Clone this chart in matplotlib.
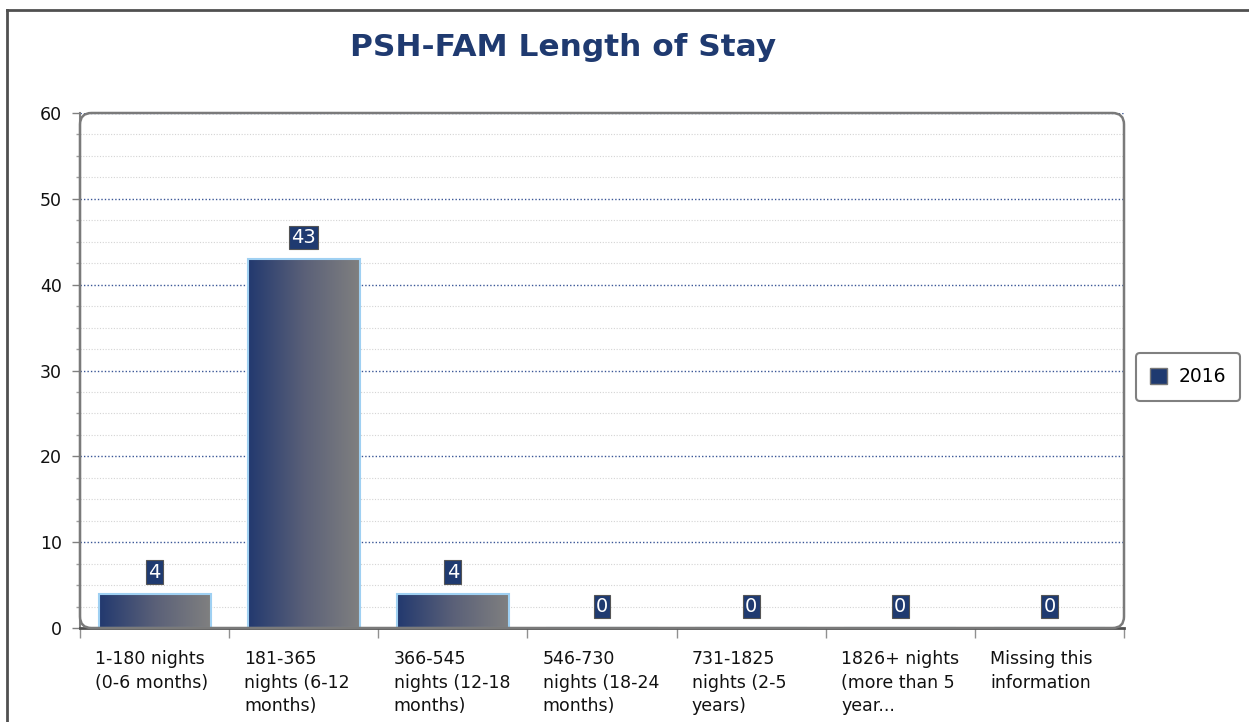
import matplotlib
matplotlib.use("Agg")
import matplotlib.pyplot as plt
import numpy as np
from matplotlib.patches import FancyBboxPatch, Patch
from matplotlib.lines import Line2D
from matplotlib.colors import LinearSegmentedColormap

# data
categories = [
    "1-180 nights\n(0-6 months)",
    "181-365\nnights (6-12\nmonths)",
    "366-545\nnights (12-18\nmonths)",
    "546-730\nnights (18-24\nmonths)",
    "731-1825\nnights (2-5\nyears)",
    "1826+ nights\n(more than 5\nyear...",
    "Missing this\ninformation",
]
values_2016 = [4, 43, 4, 0, 0, 0, 0]
series_name = "2016"
title = "PSH-FAM Length of Stay"

NAVY = "#1f3a70"
GRAD = LinearSegmentedColormap.from_list("navygray", ["#22396f", "#5a6078", "#808080"])

W, H = 1249, 722
fig = plt.figure(figsize=(W / 100, H / 100), dpi=100)
fig.patch.set_facecolor("white")
ax = fig.add_axes([80 / W, 1 - 628 / H, (1124 - 80) / W, (628 - 113) / H])
ax.set_facecolor("white")

x = np.arange(len(categories))
bars = ax.bar(x, values_2016, width=0.75, facecolor="none",
              edgecolor="#9fd0f2", linewidth=1.5, zorder=3)

grad = np.linspace(0, 1, 256).reshape(1, -1)
for b in bars:
    if b.get_height() > 0:
        ax.imshow(grad, cmap=GRAD, aspect="auto", zorder=2.5,
                  extent=(b.get_x(), b.get_x() + b.get_width(), 0, b.get_height()))

for b, v in zip(bars, values_2016):
    ax.annotate(str(v), (b.get_x() + b.get_width() / 2, b.get_height()),
                xytext=(0, 15.5), textcoords="offset points", ha="center", va="center",
                color="white", fontsize=14, zorder=5,
                bbox=dict(boxstyle="square,pad=0.12", fc=NAVY, ec="#555555", lw=0.8))

ax.set_xlim(-0.5, len(categories) - 0.5)
ax.set_ylim(0, 60)

# y axis
ax.set_yticks(np.arange(0, 61, 10))
ax.set_yticks(np.arange(0, 60.1, 2.5), minor=True)
ax.tick_params(axis="y", which="major", length=6, width=1, color="#808080",
               labelsize=12.5, pad=7, labelcolor="#111111")
ax.tick_params(axis="y", which="minor", length=3, width=1, color="#a0a0a0")
ax.grid(axis="y", which="major", color="#3a5696", linestyle=(0, (1, 1.5)), linewidth=1, zorder=1)
ax.grid(axis="y", which="minor", color="#d4d4d4", linestyle=(0, (1, 1.5)), linewidth=0.8, zorder=0.9)

# x axis: ticks at category boundaries, labels left aligned
ax.set_xticks(np.arange(len(categories) + 1) - 0.5)
ax.set_xticklabels([])
ax.tick_params(axis="x", which="major", length=7, width=1, color="#909090")
for i, lab in enumerate(categories):
    ax.annotate(lab, (i - 0.5, 0), xycoords=("data", "axes fraction"),
                xytext=(11, -16), textcoords="offset points", ha="left", va="top",
                fontsize=12.5, color="#111111", linespacing=1.38)

for s in ["top", "right"]:
    ax.spines[s].set_visible(False)
ax.spines["left"].set_color("#808080")
ax.spines["left"].set_linewidth(1.5)
ax.spines["bottom"].set_color("#505050")
ax.spines["bottom"].set_linewidth(2)

aw, ah = (1124 - 80), (628 - 113)
frame = FancyBboxPatch((0, 0), 1, 1, boxstyle="round,pad=0,rounding_size=0.011",
                       mutation_aspect=aw / ah, transform=ax.transAxes,
                       fc="none", ec="#7a7a7a", lw=1.8, clip_on=False, zorder=4)
ax.add_patch(frame)

# title
fig.text(563 / W, 1 - 48 / H, title, ha="center", va="center",
         fontsize=22.5, fontweight="bold", color=NAVY)

# legend
leg = ax.legend(handles=[Patch(facecolor=NAVY, edgecolor="#777777")], labels=[series_name],
                loc="center", bbox_to_anchor=(1188 / W, 1 - 377 / H),
                bbox_transform=fig.transFigure, fancybox=True, framealpha=1,
                edgecolor="#808080", fontsize=13.5, handlelength=0.9, handleheight=0.9,
                handletextpad=0.6, borderpad=0.75, borderaxespad=0)
leg.get_frame().set_linewidth(1.5)

# outer border
fig.add_artist(Line2D([7 / W, 7 / W], [0, 1 - 10 / H], color="#505050", lw=2))
fig.add_artist(Line2D([7 / W, 1], [1 - 10 / H, 1 - 10 / H], color="#505050", lw=2))

fig.savefig("out.png", dpi=100, facecolor="white")
